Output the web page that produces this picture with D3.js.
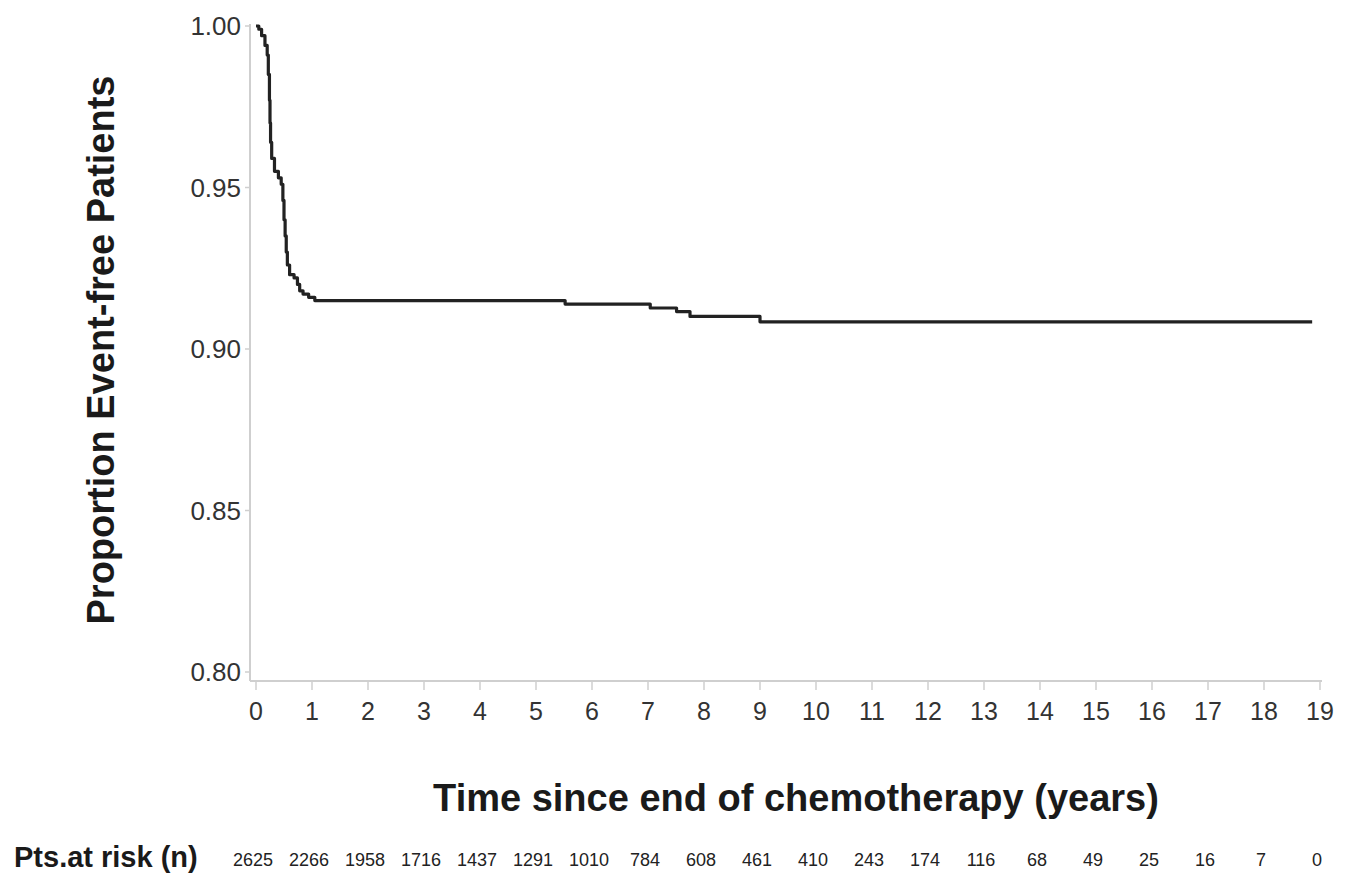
<!DOCTYPE html>
<html><head><meta charset="utf-8">
<script src="https://cdn.jsdelivr.net/npm/d3@7"></script>
<style>
html,body{margin:0;padding:0;background:#fff;}
svg{display:block;font-family:"Liberation Sans",Arial,sans-serif;}
</style></head>
<body>
<svg id="chart" width="1349" height="878"></svg>
<script>
// ---- data ----
const times = [0, 0.05, 0.10, 0.16, 0.20, 0.22, 0.24, 0.25, 0.26, 0.28, 0.33, 0.40, 0.45, 0.48, 0.50, 0.52, 0.54, 0.56, 0.60, 0.68, 0.74, 0.78, 0.84, 0.94, 1.05, 5.52, 7.04, 7.51, 7.75, 9.00, 18.86];
const survival = [1.000, 0.999, 0.997, 0.994, 0.991, 0.985, 0.977, 0.970, 0.964, 0.959, 0.955, 0.953, 0.951, 0.946, 0.940, 0.935, 0.930, 0.926, 0.923, 0.922, 0.920, 0.918, 0.917, 0.916, 0.915, 0.9139, 0.9127, 0.9116, 0.9101, 0.9084, 0.9084];
const xTicks = d3.range(0, 20);
const yTicks = [0.80, 0.85, 0.90, 0.95, 1.00];
const atRisk = [2625, 2266, 1958, 1716, 1437, 1291, 1010, 784, 608, 461, 410, 243, 174, 116, 68, 49, 25, 16, 7, 0];

// ---- layout ----
const svg = d3.select("#chart");
const x = d3.scaleLinear().domain([0, 19]).range([256, 1320]);
const y = d3.scaleLinear().domain([0.80, 1.00]).range([672, 26]);
const axisX = 250, axisY = 681;
const axisColor = "#cfcfcf";

// axes lines
svg.append("line").attr("x1", axisX).attr("x2", axisX).attr("y1", 24).attr("y2", axisY)
  .attr("stroke", axisColor).attr("stroke-width", 2);
svg.append("line").attr("x1", axisX).attr("x2", x(19) + 2).attr("y1", axisY).attr("y2", axisY)
  .attr("stroke", axisColor).attr("stroke-width", 2);

// y ticks
const yg = svg.append("g");
yg.selectAll("line").data(yTicks).join("line")
  .attr("x1", axisX - 5).attr("x2", axisX).attr("y1", d => y(d)).attr("y2", d => y(d))
  .attr("stroke", axisColor).attr("stroke-width", 1.5);
yg.selectAll("text").data(yTicks).join("text")
  .attr("x", 241).attr("y", d => y(d) + 9)
  .attr("text-anchor", "end").attr("font-size", 26).attr("fill", "#333")
  .text(d => d3.format(".2f")(d));

// x ticks
const xg = svg.append("g");
xg.selectAll("line").data(xTicks).join("line")
  .attr("x1", d => x(d)).attr("x2", d => x(d)).attr("y1", axisY).attr("y2", axisY + 9)
  .attr("stroke", axisColor).attr("stroke-width", 1.5);
xg.selectAll("text").data(xTicks).join("text")
  .attr("x", d => x(d)).attr("y", 720)
  .attr("text-anchor", "middle").attr("font-size", 25).attr("fill", "#333")
  .text(d => d);

// KM curve
const pts = times.map((t, i) => [t, survival[i]]);
const line = d3.line().x(d => x(d[0])).y(d => y(d[1])).curve(d3.curveStepAfter);
svg.append("path").datum(pts).attr("d", line)
  .attr("fill", "none").attr("stroke", "#222").attr("stroke-width", 3.2)
  .attr("stroke-linejoin", "round");

// titles
svg.append("text").attr("transform", "translate(114,350) rotate(-90)")
  .attr("text-anchor", "middle").attr("font-size", 38).attr("font-weight", "bold").attr("fill", "#1a1a1a")
  .text("Proportion Event-free Patients");
svg.append("text").attr("x", 796).attr("y", 811)
  .attr("text-anchor", "middle").attr("font-size", 38).attr("font-weight", "bold").attr("fill", "#1a1a1a")
  .text("Time since end of chemotherapy (years)");

// at risk row
svg.append("text").attr("x", 14).attr("y", 867)
  .attr("font-size", 29).attr("font-weight", "bold").attr("fill", "#1a1a1a")
  .text("Pts.at risk (n)");
svg.append("g").selectAll("text").data(atRisk).join("text")
  .attr("x", (d, i) => x(xTicks[i]) - 3).attr("y", 866)
  .attr("text-anchor", "middle").attr("font-size", 18).attr("fill", "#222")
  .text(d => d);
</script>
</body></html>
